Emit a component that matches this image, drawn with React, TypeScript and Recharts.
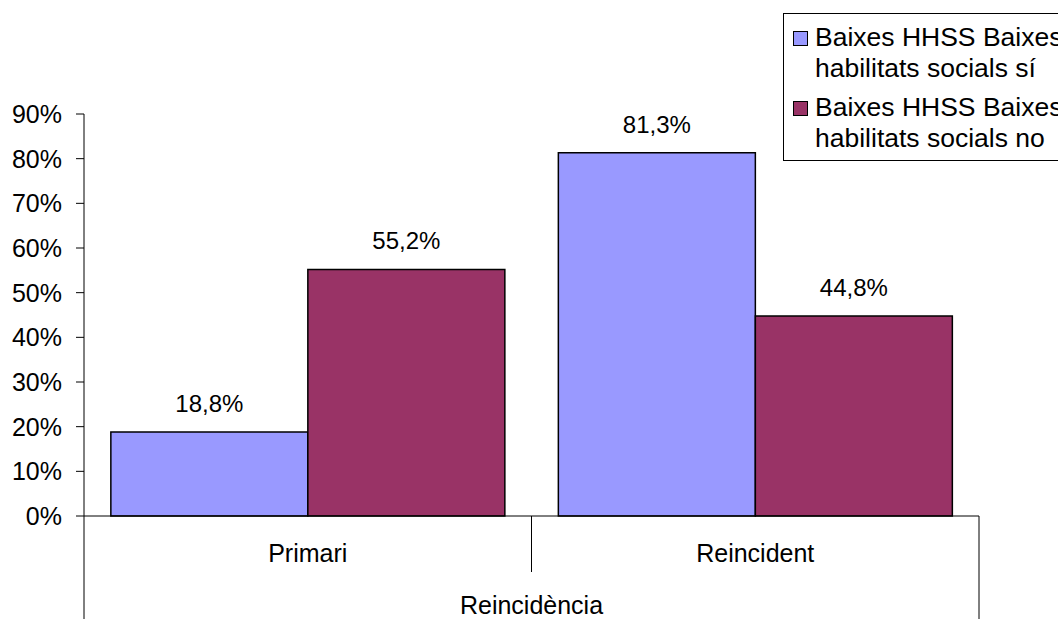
import React from "react"
import { BarChart, Bar, XAxis, YAxis, Legend, LabelList, Label } from "recharts"

const categories = ["Primari", "Reincident"]
const siValues = [18.8, 81.3]
const noValues = [55.2, 44.8]
const yTicks = [0, 10, 20, 30, 40, 50, 60, 70, 80, 90]
const seriesNames = ["Baixes HHSS Baixes habilitats socials sí", "Baixes HHSS Baixes habilitats socials no"]
const axisTitle = "Reincidència"

const colors = ["#9999FF", "#993366"]
const font = "'Liberation Sans', Arial, sans-serif"

const W = 1058
const H = 619
const margin = { top: 114, right: 79, bottom: 0, left: 0 }
const yAxisWidth = 84
const xAxisHeight = 103
const bandWidth = (W - margin.right - yAxisWidth) / categories.length

const data = categories.map((c, i) => ({ name: c, si: siValues[i], no: noValues[i] }))

const fmt = (v: number) => `${v.toFixed(1).replace(".", ",")}%`

// category label plus the table-like divider lines under the axis
const CategoryTick = (props: any) => {
    const { x, y, payload, index } = props
    const left = x - bandWidth / 2
    const right = x + bandWidth / 2
    const last = index === categories.length - 1
    return (
        <g>
            {index === 0 && <line x1={left} x2={left} y1={y} y2={y + xAxisHeight} stroke="#000" />}
            <line x1={right} x2={right} y1={y} y2={y + (last ? xAxisHeight : 56)} stroke="#000" />
            <text x={x} y={y + 46} textAnchor="middle" fontSize={25} fontFamily={font} fill="#000">
                {payload.value}
            </text>
        </g>
    )
}

const LegendBox = () => (
    <div
        style={{
            border: "1px solid #000",
            background: "#fff",
            width: 320,
            height: 148,
            boxSizing: "border-box",
            padding: "8px 0 0 0",
            fontFamily: font,
            fontSize: 26.5,
            lineHeight: "31px",
            color: "#000",
        }}
    >
        {seriesNames.map((n, i) => (
            <div key={n} style={{ display: "flex", alignItems: "flex-start", marginBottom: 8 }}>
                <div
                    style={{
                        width: 13,
                        height: 13,
                        background: colors[i],
                        border: "1.5px solid #000",
                        marginLeft: 9,
                        marginTop: 9,
                        marginRight: 7,
                        flexShrink: 0,
                    }}
                />
                <div style={{ width: 265 }}>{n}</div>
            </div>
        ))}
    </div>
)

export default function App() {
    return (
        <div style={{ position: "absolute", left: 0, top: 0, width: W, height: H, overflow: "hidden", background: "#fff" }}>
            <BarChart width={W} height={H} data={data} margin={margin} barCategoryGap="6%" barGap={0}>
                <YAxis
                    domain={[0, 90]}
                    ticks={yTicks}
                    width={yAxisWidth}
                    tickSize={8}
                    tickMargin={14}
                    tickFormatter={(v) => `${v}%`}
                    tick={{ fontSize: 25, fontFamily: font, fill: "#000" }}
                    stroke="#000"
                    interval={0}
                />
                <XAxis
                    dataKey="name"
                    height={xAxisHeight}
                    tickLine={false}
                    tickSize={0}
                    tickMargin={0}
                    tick={<CategoryTick />}
                    stroke="#000"
                    interval={0}
                >
                    <Label value={axisTitle} position="insideBottom" offset={5} fontSize={25} fontFamily={font} fill="#000" />
                </XAxis>
                <Legend
                    layout="vertical"
                    align="center"
                    verticalAlign="middle"
                    content={<LegendBox />}
                    wrapperStyle={{ left: 783, top: 13, width: 320, height: 148 }}
                />
                <Bar dataKey="si" name={seriesNames[0]} fill={colors[0]} stroke="#000" strokeWidth={1.5} isAnimationActive={false}>
                    <LabelList dataKey="si" position="top" offset={20} formatter={(v: any) => fmt(v)} fontSize={24} fontFamily={font} fill="#000" />
                </Bar>
                <Bar dataKey="no" name={seriesNames[1]} fill={colors[1]} stroke="#000" strokeWidth={1.5} isAnimationActive={false}>
                    <LabelList dataKey="no" position="top" offset={20} formatter={(v: any) => fmt(v)} fontSize={24} fontFamily={font} fill="#000" />
                </Bar>
            </BarChart>
        </div>
    )
}
